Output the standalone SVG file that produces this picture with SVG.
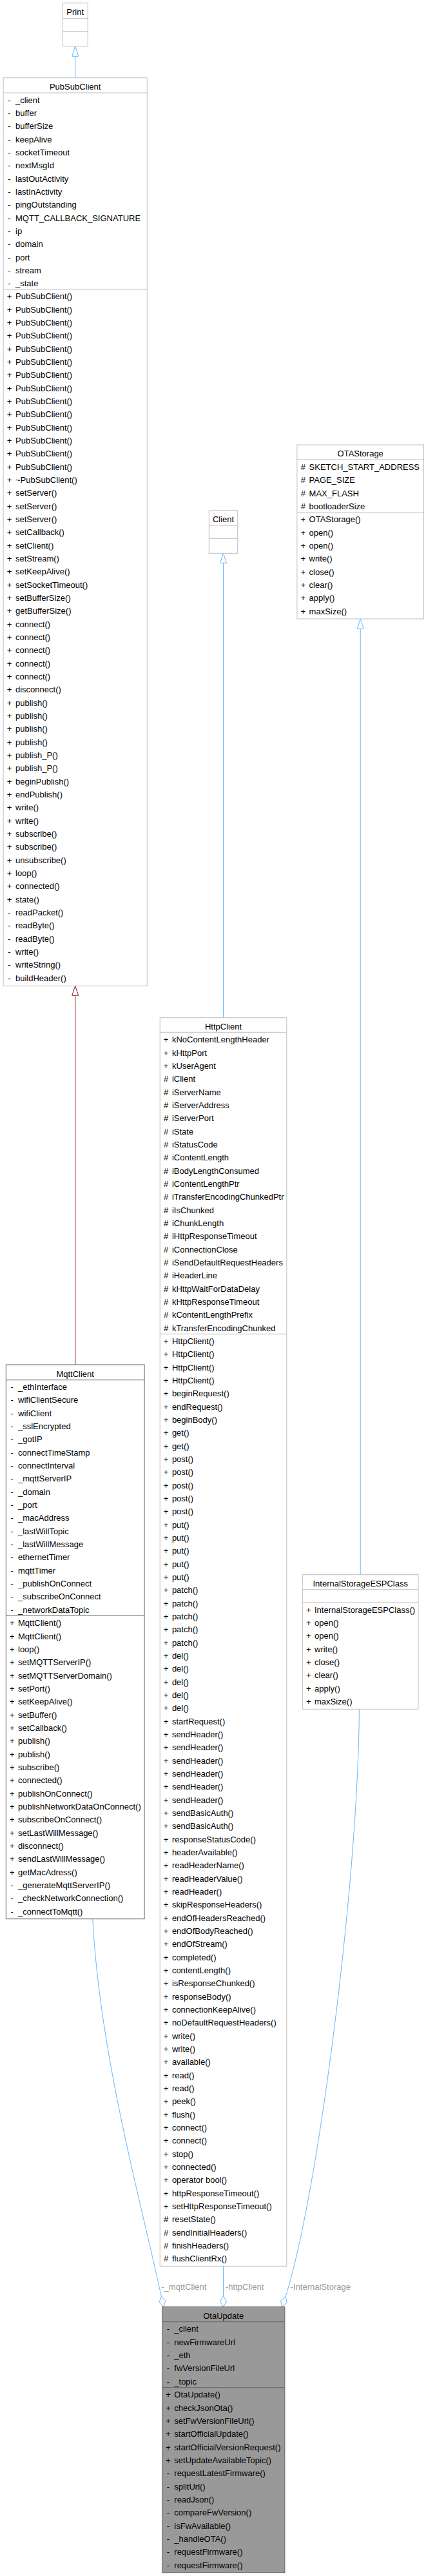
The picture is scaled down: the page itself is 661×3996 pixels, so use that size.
<svg xmlns="http://www.w3.org/2000/svg" width="661" height="3996" viewBox="0 0 661 3996">
<style>
text{font-family:"Liberation Sans",Arial,Helvetica,sans-serif;font-size:13px;fill:#000}
.hd{text-anchor:middle}
.box{fill:#fff;stroke:#bfbfbf;stroke-width:1}
.dk{fill:#fff;stroke:#666;stroke-width:1}
.sel{fill:#999;stroke:#666;stroke-width:1}
.sep{stroke:#bfbfbf;stroke-width:1}
.sepd{stroke:#666;stroke-width:1}
.e{fill:none;stroke:#63b8ff;stroke-width:1}
.er{fill:none;stroke:#8b1a1a;stroke-width:1}
.ah{fill:#fff;stroke:#63b8ff;stroke-width:1}
.ahr{fill:#fff;stroke:#8b1a1a;stroke-width:1}
.lbl{fill:#9a9a9a}
</style>
<rect width="661" height="3996" fill="#fff"/>
<g id="edges">
<line class="e" x1="116.7" y1="120.7" x2="116.7" y2="87.3"/>
<polygon class="ah" points="116.7,71.7 121.7,87.3 111.7,87.3"/>
<line class="e" x1="346.5" y1="1578.7" x2="346.5" y2="873.3"/>
<polygon class="ah" points="346.5,858.3 351.5,873.3 341.5,873.3"/>
<line class="e" x1="559.2" y1="2442.7" x2="559.2" y2="975.3"/>
<polygon class="ah" points="559.2,960 564.2,975.3 554.2,975.3"/>
<line class="er" x1="116.7" y1="2117" x2="116.7" y2="1544.3"/>
<polygon class="ahr" points="116.7,1529.3 121.7,1544.3 111.7,1544.3"/>
<path class="e" d="M143.8,2976.7 C155,3190 220,3420 250.3,3562.3"/>
<polygon class="ah" points="250.3,3562.3 256.9,3569.3 253.7,3578.3 247.1,3571.3"/>
<text class="lbl" x="250.3" y="3552.2">-_mqttClient</text>
<line class="e" x1="346.5" y1="3515.3" x2="346.5" y2="3561.7"/>
<polygon class="ah" points="346.5,3561.7 351.5,3570 346.5,3578.3 341.5,3570"/>
<text class="lbl" x="350" y="3552.2">-httpClient</text>
<path class="e" d="M557.3,2651.3 C557,2900 495,3400 443.1,3562.3"/>
<polygon class="ah" points="443.1,3562.3 445.1,3571.9 437.6,3578.3 435.6,3568.7"/>
<text class="lbl" x="450.7" y="3552.2">-InternalStorage</text>
</g>
<g id="Print">
<rect class="box" x="97.3" y="4.7" width="38.9" height="67"/>
<line class="sep" x1="97.3" y1="28.7" x2="136.2" y2="28.7"/>
<line class="sep" x1="97.3" y1="48.7" x2="136.2" y2="48.7"/>
<text class="hd" x="116.7" y="22.8">Print</text>
</g>
<g id="PubSubClient">
<rect class="box" x="5.1" y="120.7" width="223.2" height="1408.6"/>
<line class="sep" x1="5.1" y1="144" x2="228.3" y2="144"/>
<line class="sep" x1="5.1" y1="449" x2="228.3" y2="449"/>
<text class="hd" x="116.7" y="138.5">PubSubClient</text>
<text x="12.3" y="159.5">- <tspan x="24">_client</tspan></text>
<text x="12.3" y="179.8">- <tspan x="24">buffer</tspan></text>
<text x="12.3" y="200.2">- <tspan x="24">bufferSize</tspan></text>
<text x="12.3" y="220.5">- <tspan x="24">keepAlive</tspan></text>
<text x="12.3" y="240.8">- <tspan x="24">socketTimeout</tspan></text>
<text x="12.3" y="261.2">- <tspan x="24">nextMsgId</tspan></text>
<text x="12.3" y="281.5">- <tspan x="24">lastOutActivity</tspan></text>
<text x="12.3" y="301.8">- <tspan x="24">lastInActivity</tspan></text>
<text x="12.3" y="322.2">- <tspan x="24">pingOutstanding</tspan></text>
<text x="12.3" y="342.5">- <tspan x="24">MQTT_CALLBACK_SIGNATURE</tspan></text>
<text x="12.3" y="362.8">- <tspan x="24">ip</tspan></text>
<text x="12.3" y="383.2">- <tspan x="24">domain</tspan></text>
<text x="12.3" y="403.5">- <tspan x="24">port</tspan></text>
<text x="12.3" y="423.8">- <tspan x="24">stream</tspan></text>
<text x="12.3" y="444.2">- <tspan x="24">_state</tspan></text>
<text x="10.7" y="464.2">+ <tspan x="24">PubSubClient()</tspan></text>
<text x="10.7" y="484.5">+ <tspan x="24">PubSubClient()</tspan></text>
<text x="10.7" y="504.9">+ <tspan x="24">PubSubClient()</tspan></text>
<text x="10.7" y="525.2">+ <tspan x="24">PubSubClient()</tspan></text>
<text x="10.7" y="545.5">+ <tspan x="24">PubSubClient()</tspan></text>
<text x="10.7" y="565.9">+ <tspan x="24">PubSubClient()</tspan></text>
<text x="10.7" y="586.2">+ <tspan x="24">PubSubClient()</tspan></text>
<text x="10.7" y="606.5">+ <tspan x="24">PubSubClient()</tspan></text>
<text x="10.7" y="626.9">+ <tspan x="24">PubSubClient()</tspan></text>
<text x="10.7" y="647.2">+ <tspan x="24">PubSubClient()</tspan></text>
<text x="10.7" y="667.5">+ <tspan x="24">PubSubClient()</tspan></text>
<text x="10.7" y="687.9">+ <tspan x="24">PubSubClient()</tspan></text>
<text x="10.7" y="708.2">+ <tspan x="24">PubSubClient()</tspan></text>
<text x="10.7" y="728.5">+ <tspan x="24">PubSubClient()</tspan></text>
<text x="10.7" y="748.9">+ <tspan x="24">~PubSubClient()</tspan></text>
<text x="10.7" y="769.2">+ <tspan x="24">setServer()</tspan></text>
<text x="10.7" y="789.5">+ <tspan x="24">setServer()</tspan></text>
<text x="10.7" y="809.9">+ <tspan x="24">setServer()</tspan></text>
<text x="10.7" y="830.2">+ <tspan x="24">setCallback()</tspan></text>
<text x="10.7" y="850.5">+ <tspan x="24">setClient()</tspan></text>
<text x="10.7" y="870.9">+ <tspan x="24">setStream()</tspan></text>
<text x="10.7" y="891.2">+ <tspan x="24">setKeepAlive()</tspan></text>
<text x="10.7" y="911.5">+ <tspan x="24">setSocketTimeout()</tspan></text>
<text x="10.7" y="931.9">+ <tspan x="24">setBufferSize()</tspan></text>
<text x="10.7" y="952.2">+ <tspan x="24">getBufferSize()</tspan></text>
<text x="10.7" y="972.5">+ <tspan x="24">connect()</tspan></text>
<text x="10.7" y="992.9">+ <tspan x="24">connect()</tspan></text>
<text x="10.7" y="1013.2">+ <tspan x="24">connect()</tspan></text>
<text x="10.7" y="1033.5">+ <tspan x="24">connect()</tspan></text>
<text x="10.7" y="1053.9">+ <tspan x="24">connect()</tspan></text>
<text x="10.7" y="1074.2">+ <tspan x="24">disconnect()</tspan></text>
<text x="10.7" y="1094.5">+ <tspan x="24">publish()</tspan></text>
<text x="10.7" y="1114.9">+ <tspan x="24">publish()</tspan></text>
<text x="10.7" y="1135.2">+ <tspan x="24">publish()</tspan></text>
<text x="10.7" y="1155.5">+ <tspan x="24">publish()</tspan></text>
<text x="10.7" y="1175.9">+ <tspan x="24">publish_P()</tspan></text>
<text x="10.7" y="1196.2">+ <tspan x="24">publish_P()</tspan></text>
<text x="10.7" y="1216.5">+ <tspan x="24">beginPublish()</tspan></text>
<text x="10.7" y="1236.9">+ <tspan x="24">endPublish()</tspan></text>
<text x="10.7" y="1257.2">+ <tspan x="24">write()</tspan></text>
<text x="10.7" y="1277.5">+ <tspan x="24">write()</tspan></text>
<text x="10.7" y="1297.9">+ <tspan x="24">subscribe()</tspan></text>
<text x="10.7" y="1318.2">+ <tspan x="24">subscribe()</tspan></text>
<text x="10.7" y="1338.5">+ <tspan x="24">unsubscribe()</tspan></text>
<text x="10.7" y="1358.9">+ <tspan x="24">loop()</tspan></text>
<text x="10.7" y="1379.2">+ <tspan x="24">connected()</tspan></text>
<text x="10.7" y="1399.5">+ <tspan x="24">state()</tspan></text>
<text x="12.3" y="1419.9">- <tspan x="24">readPacket()</tspan></text>
<text x="12.3" y="1440.2">- <tspan x="24">readByte()</tspan></text>
<text x="12.3" y="1460.5">- <tspan x="24">readByte()</tspan></text>
<text x="12.3" y="1480.9">- <tspan x="24">write()</tspan></text>
<text x="12.3" y="1501.2">- <tspan x="24">writeString()</tspan></text>
<text x="12.3" y="1521.5">- <tspan x="24">buildHeader()</tspan></text>
</g>
<g id="Client">
<rect class="box" x="324.3" y="791.7" width="44.4" height="66.6"/>
<line class="sep" x1="324.3" y1="815" x2="368.7" y2="815"/>
<line class="sep" x1="324.3" y1="835.3" x2="368.7" y2="835.3"/>
<text class="hd" x="346.5" y="809.5">Client</text>
</g>
<g id="OTAStorage">
<rect class="box" x="460.9" y="690" width="196.6" height="270"/>
<line class="sep" x1="460.9" y1="713" x2="657.5" y2="713"/>
<line class="sep" x1="460.9" y1="794.7" x2="657.5" y2="794.7"/>
<text class="hd" x="559.2" y="708.2">OTAStorage</text>
<text x="466.7" y="728.8"># <tspan x="479.6">SKETCH_START_ADDRESS</tspan></text>
<text x="466.7" y="749.1"># <tspan x="479.6">PAGE_SIZE</tspan></text>
<text x="466.7" y="769.5"># <tspan x="479.6">MAX_FLASH</tspan></text>
<text x="466.7" y="789.8"># <tspan x="479.6">bootloaderSize</tspan></text>
<text x="466.5" y="810.2">+ <tspan x="479.6">OTAStorage()</tspan></text>
<text x="466.5" y="830.5">+ <tspan x="479.6">open()</tspan></text>
<text x="466.5" y="850.9">+ <tspan x="479.6">open()</tspan></text>
<text x="466.5" y="871.2">+ <tspan x="479.6">write()</tspan></text>
<text x="466.5" y="891.5">+ <tspan x="479.6">close()</tspan></text>
<text x="466.5" y="911.9">+ <tspan x="479.6">clear()</tspan></text>
<text x="466.5" y="932.2">+ <tspan x="479.6">apply()</tspan></text>
<text x="466.5" y="952.5">+ <tspan x="479.6">maxSize()</tspan></text>
</g>
<g id="HttpClient">
<rect class="box" x="248.2" y="1578.7" width="196.6" height="1936.6"/>
<line class="sep" x1="248.2" y1="1601.3" x2="444.8" y2="1601.3"/>
<line class="sep" x1="248.2" y1="2069.3" x2="444.8" y2="2069.3"/>
<text class="hd" x="346.5" y="1596.5">HttpClient</text>
<text x="253.8" y="1617.2">+ <tspan x="266.9">kNoContentLengthHeader</tspan></text>
<text x="253.8" y="1637.5">+ <tspan x="266.9">kHttpPort</tspan></text>
<text x="253.8" y="1657.9">+ <tspan x="266.9">kUserAgent</tspan></text>
<text x="254" y="1678.2"># <tspan x="266.9">iClient</tspan></text>
<text x="254" y="1698.5"># <tspan x="266.9">iServerName</tspan></text>
<text x="254" y="1718.9"># <tspan x="266.9">iServerAddress</tspan></text>
<text x="254" y="1739.2"># <tspan x="266.9">iServerPort</tspan></text>
<text x="254" y="1759.5"># <tspan x="266.9">iState</tspan></text>
<text x="254" y="1779.9"># <tspan x="266.9">iStatusCode</tspan></text>
<text x="254" y="1800.2"># <tspan x="266.9">iContentLength</tspan></text>
<text x="254" y="1820.5"># <tspan x="266.9">iBodyLengthConsumed</tspan></text>
<text x="254" y="1840.9"># <tspan x="266.9">iContentLengthPtr</tspan></text>
<text x="254" y="1861.2"># <tspan x="266.9">iTransferEncodingChunkedPtr</tspan></text>
<text x="254" y="1881.5"># <tspan x="266.9">iIsChunked</tspan></text>
<text x="254" y="1901.9"># <tspan x="266.9">iChunkLength</tspan></text>
<text x="254" y="1922.2"># <tspan x="266.9">iHttpResponseTimeout</tspan></text>
<text x="254" y="1942.5"># <tspan x="266.9">iConnectionClose</tspan></text>
<text x="254" y="1962.9"># <tspan x="266.9">iSendDefaultRequestHeaders</tspan></text>
<text x="254" y="1983.2"># <tspan x="266.9">iHeaderLine</tspan></text>
<text x="254" y="2003.5"># <tspan x="266.9">kHttpWaitForDataDelay</tspan></text>
<text x="254" y="2023.9"># <tspan x="266.9">kHttpResponseTimeout</tspan></text>
<text x="254" y="2044.2"># <tspan x="266.9">kContentLengthPrefix</tspan></text>
<text x="254" y="2064.5"># <tspan x="266.9">kTransferEncodingChunked</tspan></text>
<text x="253.8" y="2084.8">+ <tspan x="266.9">HttpClient()</tspan></text>
<text x="253.8" y="2105.1">+ <tspan x="266.9">HttpClient()</tspan></text>
<text x="253.8" y="2125.5">+ <tspan x="266.9">HttpClient()</tspan></text>
<text x="253.8" y="2145.8">+ <tspan x="266.9">HttpClient()</tspan></text>
<text x="253.8" y="2166.1">+ <tspan x="266.9">beginRequest()</tspan></text>
<text x="253.8" y="2186.5">+ <tspan x="266.9">endRequest()</tspan></text>
<text x="253.8" y="2206.8">+ <tspan x="266.9">beginBody()</tspan></text>
<text x="253.8" y="2227.1">+ <tspan x="266.9">get()</tspan></text>
<text x="253.8" y="2247.5">+ <tspan x="266.9">get()</tspan></text>
<text x="253.8" y="2267.8">+ <tspan x="266.9">post()</tspan></text>
<text x="253.8" y="2288.1">+ <tspan x="266.9">post()</tspan></text>
<text x="253.8" y="2308.5">+ <tspan x="266.9">post()</tspan></text>
<text x="253.8" y="2328.8">+ <tspan x="266.9">post()</tspan></text>
<text x="253.8" y="2349.1">+ <tspan x="266.9">post()</tspan></text>
<text x="253.8" y="2369.5">+ <tspan x="266.9">put()</tspan></text>
<text x="253.8" y="2389.8">+ <tspan x="266.9">put()</tspan></text>
<text x="253.8" y="2410.1">+ <tspan x="266.9">put()</tspan></text>
<text x="253.8" y="2430.5">+ <tspan x="266.9">put()</tspan></text>
<text x="253.8" y="2450.8">+ <tspan x="266.9">put()</tspan></text>
<text x="253.8" y="2471.1">+ <tspan x="266.9">patch()</tspan></text>
<text x="253.8" y="2491.5">+ <tspan x="266.9">patch()</tspan></text>
<text x="253.8" y="2511.8">+ <tspan x="266.9">patch()</tspan></text>
<text x="253.8" y="2532.1">+ <tspan x="266.9">patch()</tspan></text>
<text x="253.8" y="2552.5">+ <tspan x="266.9">patch()</tspan></text>
<text x="253.8" y="2572.8">+ <tspan x="266.9">del()</tspan></text>
<text x="253.8" y="2593.1">+ <tspan x="266.9">del()</tspan></text>
<text x="253.8" y="2613.5">+ <tspan x="266.9">del()</tspan></text>
<text x="253.8" y="2633.8">+ <tspan x="266.9">del()</tspan></text>
<text x="253.8" y="2654.1">+ <tspan x="266.9">del()</tspan></text>
<text x="253.8" y="2674.5">+ <tspan x="266.9">startRequest()</tspan></text>
<text x="253.8" y="2694.8">+ <tspan x="266.9">sendHeader()</tspan></text>
<text x="253.8" y="2715.1">+ <tspan x="266.9">sendHeader()</tspan></text>
<text x="253.8" y="2735.5">+ <tspan x="266.9">sendHeader()</tspan></text>
<text x="253.8" y="2755.8">+ <tspan x="266.9">sendHeader()</tspan></text>
<text x="253.8" y="2776.1">+ <tspan x="266.9">sendHeader()</tspan></text>
<text x="253.8" y="2796.5">+ <tspan x="266.9">sendHeader()</tspan></text>
<text x="253.8" y="2816.8">+ <tspan x="266.9">sendBasicAuth()</tspan></text>
<text x="253.8" y="2837.1">+ <tspan x="266.9">sendBasicAuth()</tspan></text>
<text x="253.8" y="2857.5">+ <tspan x="266.9">responseStatusCode()</tspan></text>
<text x="253.8" y="2877.8">+ <tspan x="266.9">headerAvailable()</tspan></text>
<text x="253.8" y="2898.1">+ <tspan x="266.9">readHeaderName()</tspan></text>
<text x="253.8" y="2918.5">+ <tspan x="266.9">readHeaderValue()</tspan></text>
<text x="253.8" y="2938.8">+ <tspan x="266.9">readHeader()</tspan></text>
<text x="253.8" y="2959.1">+ <tspan x="266.9">skipResponseHeaders()</tspan></text>
<text x="253.8" y="2979.5">+ <tspan x="266.9">endOfHeadersReached()</tspan></text>
<text x="253.8" y="2999.8">+ <tspan x="266.9">endOfBodyReached()</tspan></text>
<text x="253.8" y="3020.1">+ <tspan x="266.9">endOfStream()</tspan></text>
<text x="253.8" y="3040.5">+ <tspan x="266.9">completed()</tspan></text>
<text x="253.8" y="3060.8">+ <tspan x="266.9">contentLength()</tspan></text>
<text x="253.8" y="3081.1">+ <tspan x="266.9">isResponseChunked()</tspan></text>
<text x="253.8" y="3101.5">+ <tspan x="266.9">responseBody()</tspan></text>
<text x="253.8" y="3121.8">+ <tspan x="266.9">connectionKeepAlive()</tspan></text>
<text x="253.8" y="3142.1">+ <tspan x="266.9">noDefaultRequestHeaders()</tspan></text>
<text x="253.8" y="3162.5">+ <tspan x="266.9">write()</tspan></text>
<text x="253.8" y="3182.8">+ <tspan x="266.9">write()</tspan></text>
<text x="253.8" y="3203.1">+ <tspan x="266.9">available()</tspan></text>
<text x="253.8" y="3223.5">+ <tspan x="266.9">read()</tspan></text>
<text x="253.8" y="3243.8">+ <tspan x="266.9">read()</tspan></text>
<text x="253.8" y="3264.1">+ <tspan x="266.9">peek()</tspan></text>
<text x="253.8" y="3284.5">+ <tspan x="266.9">flush()</tspan></text>
<text x="253.8" y="3304.8">+ <tspan x="266.9">connect()</tspan></text>
<text x="253.8" y="3325.1">+ <tspan x="266.9">connect()</tspan></text>
<text x="253.8" y="3345.5">+ <tspan x="266.9">stop()</tspan></text>
<text x="253.8" y="3365.8">+ <tspan x="266.9">connected()</tspan></text>
<text x="253.8" y="3386.1">+ <tspan x="266.9">operator bool()</tspan></text>
<text x="253.8" y="3406.5">+ <tspan x="266.9">httpResponseTimeout()</tspan></text>
<text x="253.8" y="3426.8">+ <tspan x="266.9">setHttpResponseTimeout()</tspan></text>
<text x="254" y="3447.1"># <tspan x="266.9">resetState()</tspan></text>
<text x="254" y="3467.5"># <tspan x="266.9">sendInitialHeaders()</tspan></text>
<text x="254" y="3487.8"># <tspan x="266.9">finishHeaders()</tspan></text>
<text x="254" y="3508.1"># <tspan x="266.9">flushClientRx()</tspan></text>
</g>
<g id="MqttClient">
<rect class="dk" x="9.3" y="2117" width="214.8" height="859.7"/>
<line class="sepd" x1="9.3" y1="2140.7" x2="224.1" y2="2140.7"/>
<line class="sepd" x1="9.3" y1="2506" x2="224.1" y2="2506"/>
<text class="hd" x="116.7" y="2135.5">MqttClient</text>
<text x="16.5" y="2155.8">- <tspan x="28">_ethInterface</tspan></text>
<text x="16.5" y="2176.1">- <tspan x="28">wifiClientSecure</tspan></text>
<text x="16.5" y="2196.5">- <tspan x="28">wifiClient</tspan></text>
<text x="16.5" y="2216.8">- <tspan x="28">_sslEncrypted</tspan></text>
<text x="16.5" y="2237.1">- <tspan x="28">_gotIP</tspan></text>
<text x="16.5" y="2257.5">- <tspan x="28">connectTimeStamp</tspan></text>
<text x="16.5" y="2277.8">- <tspan x="28">connectInterval</tspan></text>
<text x="16.5" y="2298.1">- <tspan x="28">_mqttServerIP</tspan></text>
<text x="16.5" y="2318.5">- <tspan x="28">_domain</tspan></text>
<text x="16.5" y="2338.8">- <tspan x="28">_port</tspan></text>
<text x="16.5" y="2359.1">- <tspan x="28">_macAddress</tspan></text>
<text x="16.5" y="2379.5">- <tspan x="28">_lastWillTopic</tspan></text>
<text x="16.5" y="2399.8">- <tspan x="28">_lastWillMessage</tspan></text>
<text x="16.5" y="2420.1">- <tspan x="28">ethernetTimer</tspan></text>
<text x="16.5" y="2440.5">- <tspan x="28">mqttTimer</tspan></text>
<text x="16.5" y="2460.8">- <tspan x="28">_publishOnConnect</tspan></text>
<text x="16.5" y="2481.1">- <tspan x="28">_subscribeOnConnect</tspan></text>
<text x="16.5" y="2501.5">- <tspan x="28">_networkDataTopic</tspan></text>
<text x="14.9" y="2522.2">+ <tspan x="28">MqttClient()</tspan></text>
<text x="14.9" y="2542.5">+ <tspan x="28">MqttClient()</tspan></text>
<text x="14.9" y="2562.9">+ <tspan x="28">loop()</tspan></text>
<text x="14.9" y="2583.2">+ <tspan x="28">setMQTTServerIP()</tspan></text>
<text x="14.9" y="2603.5">+ <tspan x="28">setMQTTServerDomain()</tspan></text>
<text x="14.9" y="2623.9">+ <tspan x="28">setPort()</tspan></text>
<text x="14.9" y="2644.2">+ <tspan x="28">setKeepAlive()</tspan></text>
<text x="14.9" y="2664.5">+ <tspan x="28">setBuffer()</tspan></text>
<text x="14.9" y="2684.9">+ <tspan x="28">setCallback()</tspan></text>
<text x="14.9" y="2705.2">+ <tspan x="28">publish()</tspan></text>
<text x="14.9" y="2725.5">+ <tspan x="28">publish()</tspan></text>
<text x="14.9" y="2745.9">+ <tspan x="28">subscribe()</tspan></text>
<text x="14.9" y="2766.2">+ <tspan x="28">connected()</tspan></text>
<text x="14.9" y="2786.5">+ <tspan x="28">publishOnConnect()</tspan></text>
<text x="14.9" y="2806.9">+ <tspan x="28">publishNetworkDataOnConnect()</tspan></text>
<text x="14.9" y="2827.2">+ <tspan x="28">subscribeOnConnect()</tspan></text>
<text x="14.9" y="2847.5">+ <tspan x="28">setLastWillMessage()</tspan></text>
<text x="14.9" y="2867.9">+ <tspan x="28">disconnect()</tspan></text>
<text x="14.9" y="2888.2">+ <tspan x="28">sendLastWillMessage()</tspan></text>
<text x="14.9" y="2908.5">+ <tspan x="28">getMacAdress()</tspan></text>
<text x="16.5" y="2928.9">- <tspan x="28">_generateMqttServerIP()</tspan></text>
<text x="16.5" y="2949.2">- <tspan x="28">_checkNetworkConnection()</tspan></text>
<text x="16.5" y="2969.5">- <tspan x="28">_connectToMqtt()</tspan></text>
</g>
<g id="InternalStorageESPClass">
<rect class="box" x="469.3" y="2442.7" width="179.7" height="208.6"/>
<line class="sep" x1="469.3" y1="2465.7" x2="649" y2="2465.7"/>
<line class="sep" x1="469.3" y1="2486" x2="649" y2="2486"/>
<text class="hd" x="559.2" y="2460.8">InternalStorageESPClass</text>
<text x="474.9" y="2501.5">+ <tspan x="488">InternalStorageESPClass()</tspan></text>
<text x="474.9" y="2521.8">+ <tspan x="488">open()</tspan></text>
<text x="474.9" y="2542.2">+ <tspan x="488">open()</tspan></text>
<text x="474.9" y="2562.5">+ <tspan x="488">write()</tspan></text>
<text x="474.9" y="2582.8">+ <tspan x="488">close()</tspan></text>
<text x="474.9" y="2603.2">+ <tspan x="488">clear()</tspan></text>
<text x="474.9" y="2623.5">+ <tspan x="488">apply()</tspan></text>
<text x="474.9" y="2643.8">+ <tspan x="488">maxSize()</tspan></text>
</g>
<g id="OtaUpdate">
<rect class="sel" x="251.6" y="3578.3" width="190.3" height="412.4"/>
<line class="sepd" x1="251.6" y1="3601.7" x2="441.9" y2="3601.7"/>
<line class="sepd" x1="251.6" y1="3703.7" x2="441.9" y2="3703.7"/>
<text class="hd" x="346.7" y="3596.8">OtaUpdate</text>
<text x="258.8" y="3617.2">- <tspan x="270.3">_client</tspan></text>
<text x="258.8" y="3637.5">- <tspan x="270.3">newFirmwareUrl</tspan></text>
<text x="258.8" y="3657.9">- <tspan x="270.3">_eth</tspan></text>
<text x="258.8" y="3678.2">- <tspan x="270.3">fwVersionFileUrl</tspan></text>
<text x="258.8" y="3698.5">- <tspan x="270.3">_topic</tspan></text>
<text x="257.2" y="3719.2">+ <tspan x="270.3">OtaUpdate()</tspan></text>
<text x="257.2" y="3739.5">+ <tspan x="270.3">checkJsonOta()</tspan></text>
<text x="257.2" y="3759.9">+ <tspan x="270.3">setFwVersionFileUrl()</tspan></text>
<text x="257.2" y="3780.2">+ <tspan x="270.3">startOfficialUpdate()</tspan></text>
<text x="257.2" y="3800.5">+ <tspan x="270.3">startOfficialVersionRequest()</tspan></text>
<text x="257.2" y="3820.9">+ <tspan x="270.3">setUpdateAvailableTopic()</tspan></text>
<text x="258.8" y="3841.2">- <tspan x="270.3">requestLatestFirmware()</tspan></text>
<text x="258.8" y="3861.5">- <tspan x="270.3">splitUrl()</tspan></text>
<text x="258.8" y="3881.9">- <tspan x="270.3">readJson()</tspan></text>
<text x="258.8" y="3902.2">- <tspan x="270.3">compareFwVersion()</tspan></text>
<text x="258.8" y="3922.5">- <tspan x="270.3">isFwAvailable()</tspan></text>
<text x="258.8" y="3942.9">- <tspan x="270.3">_handleOTA()</tspan></text>
<text x="258.8" y="3963.2">- <tspan x="270.3">requestFirmware()</tspan></text>
<text x="258.8" y="3983.5">- <tspan x="270.3">requestFirmware()</tspan></text>
</g>
</svg>
